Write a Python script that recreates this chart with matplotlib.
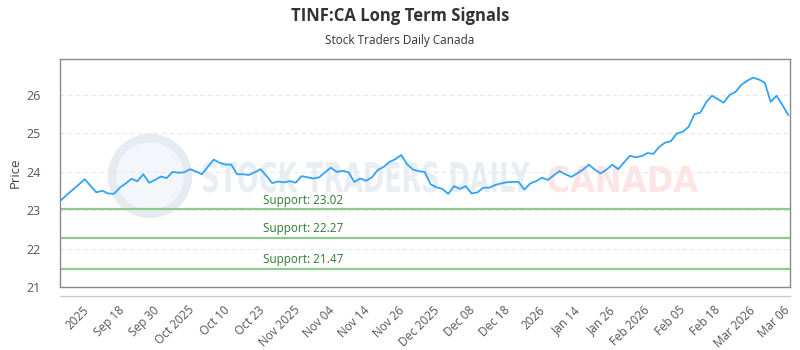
import matplotlib
matplotlib.use("Agg")
import matplotlib.pyplot as plt
from matplotlib.patches import Circle, PathPatch
from matplotlib.lines import Line2D
from matplotlib.textpath import TextPath
from matplotlib.font_manager import FontProperties
from matplotlib.transforms import Affine2D

# ---------------------------------------------------------------------------
# Data
# ---------------------------------------------------------------------------
prices = [
    23.26, 23.40, 23.53, 23.66, 23.80, 23.63, 23.46, 23.50, 23.43, 23.42,
    23.58, 23.69, 23.81, 23.75, 23.93, 23.71, 23.78, 23.87, 23.83, 23.99,
    23.97, 23.98, 24.06, 24.00, 23.93, 24.12, 24.31, 24.23, 24.18, 24.18,
    23.93, 23.93, 23.91, 23.98, 24.06, 23.89, 23.70, 23.74, 23.72, 23.75,
    23.71, 23.88, 23.85, 23.82, 23.85, 23.98, 24.10, 23.99, 24.02, 23.98,
    23.73, 23.82, 23.76, 23.85, 24.04, 24.12, 24.25, 24.32, 24.43, 24.19,
    24.05, 24.01, 23.99, 23.67, 23.59, 23.55, 23.42, 23.62, 23.55, 23.62,
    23.43, 23.46, 23.58, 23.58, 23.65, 23.69, 23.72, 23.73, 23.73, 23.53,
    23.69, 23.75, 23.84, 23.78, 23.90, 24.01, 23.93, 23.86, 23.95, 24.05,
    24.18, 24.05, 23.95, 24.05, 24.18, 24.06, 24.24, 24.41, 24.37, 24.40,
    24.48, 24.46, 24.64, 24.75, 24.79, 24.99, 25.03, 25.16, 25.49, 25.53,
    25.80, 25.97, 25.88, 25.79, 25.99, 26.07, 26.25, 26.36, 26.44, 26.39,
    26.31, 25.81, 25.97, 25.73, 25.47,
]

tick_labels = [
    "2025", "Sep 18", "Sep 30", "Oct 2025", "Oct 10", "Oct 23", "Nov 2025",
    "Nov 04", "Nov 14", "Nov 26", "Dec 2025", "Dec 08", "Dec 18", "2026",
    "Jan 14", "Jan 26", "Feb 2026", "Feb 05", "Feb 18", "Mar 2026", "Mar 06",
]
tick_pos = [3.7 + 5.975 * i for i in range(len(tick_labels))]

supports = [23.02, 22.27, 21.47]
y_ticks = [21, 22, 23, 24, 25, 26]

# ---------------------------------------------------------------------------
# Figure
# ---------------------------------------------------------------------------
plt.rcParams["font.family"] = ["Open Sans", "DejaVu Sans"]

fig = plt.figure(figsize=(8, 3.5), dpi=100)
ax = fig.add_axes([0.075, 0.18, 0.9125, 0.651])

x = list(range(len(prices)))
n = len(prices)


def wordmark(text, x0, x1, base, cap, color):
    """Faint condensed watermark text, placed in figure inches."""
    tp = TextPath((0, 0), text, size=1,
                  prop=FontProperties(family="DejaVu Sans", weight="bold"))
    ext = tp.get_extents()
    sx = (x1 - x0) / ext.width
    sy = cap / 0.73
    tr = (Affine2D().translate(-ext.x0, 0).scale(sx, sy).translate(x0, base)
          + fig.dpi_scale_trans)
    ax.add_patch(PathPatch(tp, transform=tr, facecolor=color,
                           edgecolor="none", zorder=0, clip_on=False))


# watermark: round logo + wordmark
ax.add_patch(Circle((1.50, 1.74), radius=0.38, transform=fig.dpi_scale_trans,
                    facecolor="#f3f6fa", edgecolor="#e6ebf2", linewidth=6,
                    zorder=0, clip_on=False))
wordmark("STOCK TRADERS DAILY", 2.03, 5.30, 1.58, 0.30, "#e9eef4")
wordmark("CANADA", 5.48, 6.98, 1.58, 0.26, "#fde5e5")

# grid
for yv in y_ticks:
    ax.axhline(yv, color="#e8e8e8", linewidth=0.8, linestyle=(0, (4, 3)),
               zorder=1)

# support lines
for s in supports:
    ax.axhline(s, color="#8fcb8f", linewidth=1.6, zorder=2)
    ax.text(34.5, s + 0.07, f"Support: {s:.2f}", fontsize=8.5,
            color="#2e7d32", ha="left", va="bottom", zorder=3)

ax.plot(x, prices, color="#33a3f4", linewidth=1.3, zorder=4)

ax.set_xlim(-0.2, n - 1 + 0.3)
ax.set_ylim(21, 26.92)
ax.set_yticks(y_ticks)
ax.set_xticks(tick_pos)
ax.set_xticklabels(tick_labels, rotation=45, ha="right",
                   rotation_mode="anchor", fontsize=8.5, color="#555555")
ax.tick_params(axis="x", length=0, pad=12)
ax.tick_params(axis="y", length=0, pad=14, labelsize=9, labelcolor="#555555")
ax.set_ylabel("Price", fontsize=9.5, color="#444444", labelpad=3)

for sp in ax.spines.values():
    sp.set_color("#8a8a8a")
    sp.set_linewidth(1.0)

# secondary x-axis baseline below the plot frame
fig.add_artist(Line2D([0.075, 0.9875], [0.154, 0.154], color="#cccccc",
                      linewidth=1.0))

fig.text(0.5, 0.955, "TINF:CA Long Term Signals", ha="center", va="center",
         fontsize=12, fontweight="bold", color="#333333")
fig.text(0.5, 0.885, "Stock Traders Daily Canada", ha="center", va="center",
         fontsize=8.5, color="#333333")

fig.savefig("out.png", dpi=100)
